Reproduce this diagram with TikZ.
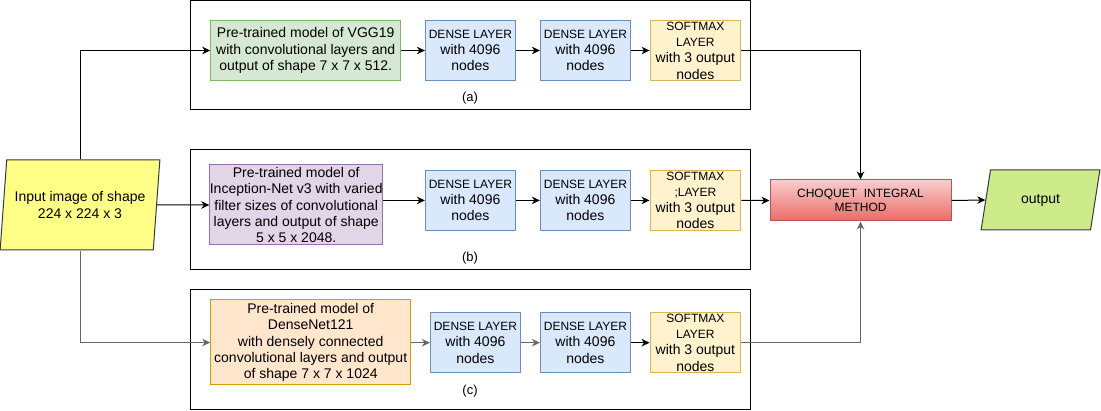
\documentclass[tikz,border=0pt]{standalone}
\usepackage{fontspec}
\setmainfont{Liberation Sans}
\usetikzlibrary{arrows.meta,positioning,shapes.geometric}
\definecolor{pgreen}{HTML}{D5E8D4}
\definecolor{dgreen}{HTML}{82B366}
\definecolor{pblue}{HTML}{DAE8FC}
\definecolor{dblue}{HTML}{6C8EBF}
\definecolor{pyell}{HTML}{FFF2CC}
\definecolor{dyell}{HTML}{D6B656}
\definecolor{ppurp}{HTML}{E1D5E7}
\definecolor{dpurp}{HTML}{9673A6}
\definecolor{porng}{HTML}{FFE6CC}
\definecolor{dorng}{HTML}{D79B00}
\definecolor{pinp}{HTML}{FFFF88}
\definecolor{pout}{HTML}{CDEB8B}
\definecolor{dgrey}{HTML}{36393D}
\definecolor{pred}{HTML}{F8CECC}
\definecolor{mred}{HTML}{EA6B66}
\definecolor{dred}{HTML}{B85450}
\newcommand\capsz{\fontsize{12}{14}\selectfont}
\tikzset{
  blk/.style={draw,line width=1pt,inner sep=0pt,align=center,
              font=\fontsize{14}{16.3}\selectfont},
  dense/.style={blk,fill=pblue,draw=dblue,minimum width=90pt,minimum height=60pt},
  soft/.style={blk,fill=pyell,draw=dyell,minimum width=90.7pt,minimum height=60pt},
  io/.style={blk,draw=dgrey,trapezium,trapezium stretches=true},
  arr/.style={-{Stealth[length=8pt,width=7.5pt,inset=2.5pt]},line width=1pt},
  tag/.style={font=\fontsize{13}{15}\selectfont},
}

\begin{document}
\begin{tikzpicture}[x=1pt,y=1pt]
\useasboundingbox (0,0) rectangle (1101,-411);
% frames of the three branches
\foreach \top/\bot in {-1/-110, -150/-269.5, -290/-410}
  \draw[line width=1pt] (190.7,\top) rectangle (750,\bot);
\node[tag] (laba) at (470,-98) {(a)};
\node[tag] (labb) at (470,-258) {(b)};
\node[tag] (labc) at (470,-391) {(c)};

\node[io,fill=pinp,minimum width=160pt,minimum height=90pt,
      trapezium left angle=77.5,trapezium right angle=102.5] (inp) at (80,-205)
  {Input image of shape\\224 x 224 x 3};

% branch (a)
\node[blk,fill=pgreen,draw=dgreen,minimum width=190pt,minimum height=59.3pt] (vgg) at (305.7,-50.5)
  {Pre-trained model of VGG19\\with convolutional layers and\\output of shape 7 x 7 x 512.};
\node[dense] (da1) at (470.4,-50.5) {{\capsz DENSE LAYER}\\with 4096\\nodes};
\node[dense] (da2) at (585.4,-50.5) {{\capsz DENSE LAYER}\\with 4096\\nodes};
\node[soft] (sma) at (695.4,-50.5) {{\capsz SOFTMAX}\\{\capsz LAYER}\\with 3 output\\nodes};

% branch (b)
\node[blk,fill=ppurp,draw=dpurp,minimum width=161pt,minimum height=80pt] (inc) at (296.2,-205)
  {Pre-trained model of\\Inception-Net v3 with varied\\filter sizes of convolutional\\layers and output of shape\\5 x 5 x 2048.};
\node[dense] (db1) at (470.4,-200.4) {{\capsz DENSE LAYER}\\with 4096\\nodes};
\node[dense] (db2) at (585.4,-200.4) {{\capsz DENSE LAYER}\\with 4096\\nodes};
\node[soft] (smb) at (695.4,-200.4) {{\capsz SOFTMAX}\\{\capsz ;LAYER}\\with 3 output\\nodes};

% branch (c)
\node[blk,fill=porng,draw=dorng,minimum width=200pt,minimum height=85pt] (dnet) at (310.7,-342.5)
  {Pre-trained model of\\DenseNet121\\with densely connected\\convolutional layers and output\\of shape 7 x 7 x 1024};
\node[dense] (dc1) at (475.4,-342.7) {{\capsz DENSE LAYER}\\with 4096\\nodes};
\node[dense] (dc2) at (585.4,-342.7) {{\capsz DENSE LAYER}\\with 4096\\nodes};
\node[soft] (smc) at (695.4,-342.7) {{\capsz SOFTMAX}\\{\capsz LAYER}\\with 3 output\\nodes};

\node[blk,font=\capsz,top color=pred,bottom color=mred,draw=dred,
      minimum width=181pt,minimum height=41pt] (choq) at (860.5,-200.5)
  {CHOQUET\ \ INTEGRAL\\METHOD};
\node[io,fill=pout,minimum width=119pt,minimum height=60pt,
      trapezium left angle=73,trapezium right angle=107] (outp) at (1040.5,-200)
  {output};

% connectors
\draw[arr] (inp.north) |- (vgg.west);
\draw[arr] (inp.east) -- (inc.west);
\draw[arr,black!60] (inp.south) |- (dnet.west);
\draw[arr] (vgg.east) -- (da1.west);
\draw[arr] (da1.east) -- (da2.west);
\draw[arr] (da2.east) -- (sma.west);
\draw[arr] (inc.east |- db1.west) -- (db1.west);
\draw[arr] (db1.east) -- (db2.west);
\draw[arr] (db2.east) -- (smb.west);
\draw[arr,black!60] (dnet.east |- dc1.west) -- (dc1.west);
\draw[arr,black!60] (dc1.east) -- (dc2.west);
\draw[arr] (dc2.east) -- (smc.west);
\draw[arr] (sma.east) -| (choq.north);
\draw[arr] (smb.east) -- (choq.west);
\draw[arr,black!60] (smc.east) -| (choq.south);
\draw[arr] (choq.east) -- (outp.west);
\end{tikzpicture}
\end{document}
